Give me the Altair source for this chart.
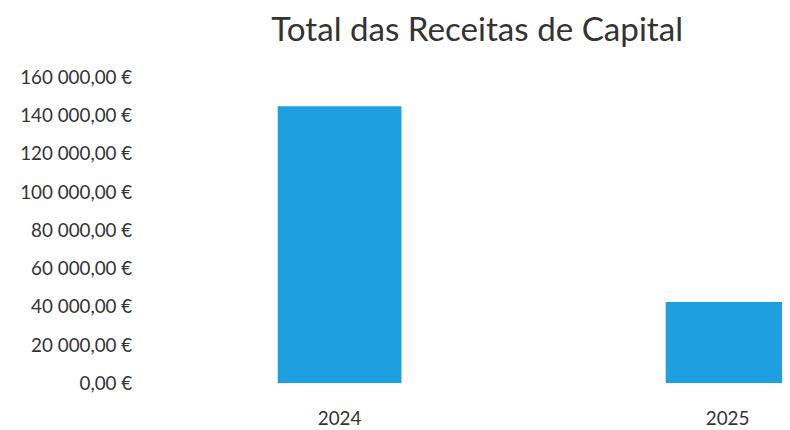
import altair as alt
import pandas as pd

years = ["2024", "2025"]
values = [145000, 42500]
title_text = "Total das Receitas de Capital"
y_ticks = [0, 20000, 40000, 60000, 80000, 100000, 120000, 140000, 160000]

df = pd.DataFrame({"ano": years, "valor": values})

label_expr = "replace(replace(format(datum.value, ',.2f'), ',', ' '), '.', ',') + ' €'"

chart = (
    alt.Chart(df)
    .mark_bar(color="#1E9FE0", clip=True)
    .encode(
        x=alt.X(
            "ano:N",
            title=None,
            sort=years,
            scale=alt.Scale(range=[0, 782], paddingInner=0.681, paddingOuter=0.338),
            axis=alt.Axis(
                labelAngle=0,
                labelFont="Lato",
                labelFontSize=19,
                labelColor="#333333",
                labelPadding=27,
                ticks=False,
                domain=False,
                grid=False,
            ),
        ),
        y=alt.Y(
            "valor:Q",
            title=None,
            scale=alt.Scale(domain=[0, 160000], nice=False),
            axis=alt.Axis(
                values=y_ticks,
                labelExpr=label_expr,
                labelFont="Lato",
                labelFontSize=19,
                labelColor="#333333",
                labelPadding=15,
                ticks=False,
                domain=False,
                grid=False,
            ),
        ),
    )
    .properties(
        width=642,
        height=309,
        background="white",
        autosize=alt.AutoSizeParams(type="none"),
        padding={"left": 140, "top": 68, "right": 0, "bottom": 50},
        title=alt.TitleParams(
            title_text,
            font="Lato",
            fontSize=33.5,
            fontWeight="normal",
            color="#333333",
            anchor="middle",
            dx=13,
            offset=20,
        ),
    )
    .configure_view(stroke=None, strokeWidth=0)
)

chart.save("out.html", embed_options={"renderer": "svg", "actions": False})
